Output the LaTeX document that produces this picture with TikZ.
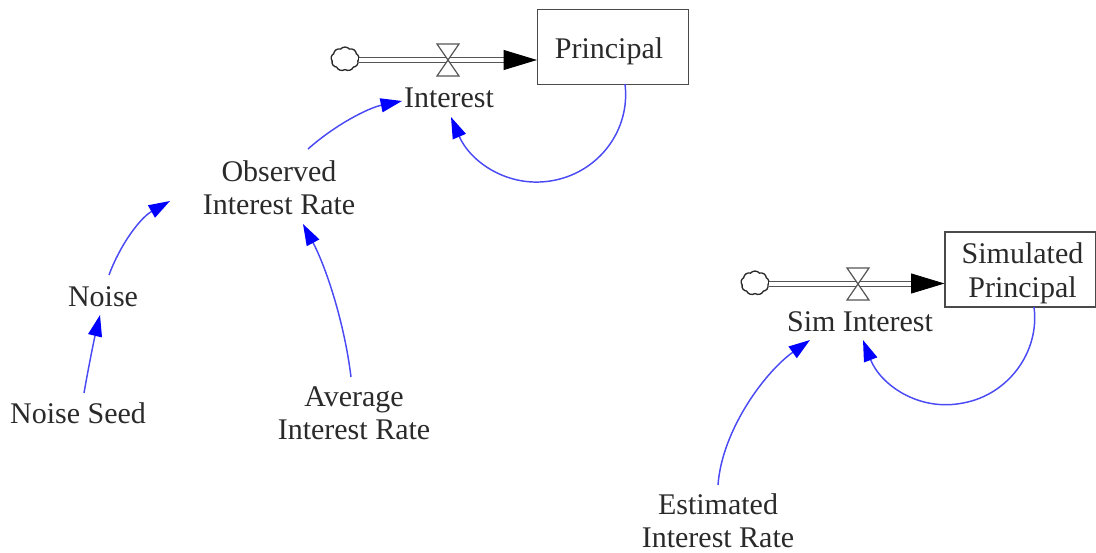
\documentclass[tikz,border=0pt]{standalone}
\usepackage{fontspec}
\setmainfont{Liberation Serif}
\usetikzlibrary{arrows.meta,calc,shapes.symbols}
\definecolor{inkc}{HTML}{2A2A2A}
\definecolor{linkblue}{HTML}{4A4AF5}
\tikzset{
  lbl/.style={font=\fontsize{22.5pt}{25pt}\selectfont,text=inkc,align=center,inner sep=0pt},
  stockbox/.style={lbl,draw=inkc!85,line width=1.1pt,minimum width=113pt,minimum height=56pt},
  link/.style={draw=linkblue,line width=1.1pt,-{Triangle[length=16pt,width=10.5pt,fill=blue,color=blue]}},
  sourcecloud/.style={cloud,cloud puffs=9,cloud puff arc=100,aspect=1.2,draw=inkc,line width=1pt,inner sep=0pt,minimum width=21pt,minimum height=18pt},
  pipe/.style={draw=inkc!80,line width=1pt,double=white,double distance=2.6pt},
  flowhead/.style={draw=black,line width=.6pt,-{Triangle[length=25pt,width=15pt,fill=black]}},
  valveline/.style={draw=inkc!80,line width=.9pt,line join=miter},
}
\begin{document}
\begin{tikzpicture}[x=0.75pt,y=-0.75pt]
\useasboundingbox (0,0) rectangle (1096,553);
% stocks
\node[stockbox] (principal) at (613,47) {\rule{0pt}{22.7pt}Principal\hspace*{6pt}};
\node[stockbox] (simprincipal) at (1020.5,269.5) {\rule{0pt}{21.2pt}\hspace*{3pt}Simulated\\\hspace*{3pt}Principal};
% sources
\node[sourcecloud] (cloudA) at (345,59) {};
\node[sourcecloud] (cloudB) at (755,283) {};
% variables
\node[lbl] (interest) at (449,98) {Interest};
\node[lbl] (simint) at (860,322) {Sim Interest};
\node[lbl] (observed) at (279,188) {Observed\\Interest Rate};
\node[lbl] (noise) at (103,297) {Noise};
\node[lbl] (seed) at (78,413) {Noise Seed};
\node[lbl] (average) at (354,413) {Average\\Interest Rate};
\node[lbl] (estimated) at (718,521) {Estimated\\Interest Rate};
% flows
\coordinate (valveA) at (448,60);
\coordinate (valveB) at (858,284);
\draw[pipe] (cloudA.east |- 0,60) -- (506,60);
\draw[flowhead] (504,60) -- ($(principal.west)+(0,13)$);
\draw[pipe] (cloudB.east |- 0,284) -- (917,284);
\draw[flowhead] (915,283.5) -- ($(simprincipal.west)+(0,14)$);
\draw[valveline,fill=white] (valveA) -- ++(-11,-16) -- ++(22,0) -- cycle;
\draw[valveline,fill=white] (valveA) -- ++(-11,16) -- ++(22,0) -- cycle;
\draw[valveline,fill=white] (valveB) -- ++(-11,-16) -- ++(22,0) -- cycle;
\draw[valveline,fill=white] (valveB) -- ++(-11,16) -- ++(22,0) -- cycle;
% influences
\draw[link] ($(observed)+(29,-39)$) .. controls (335,125) and (368,108) .. ($(interest)+(-47,3)$);
\draw[link] ($(noise)+(6,-22)$) .. controls (120,245) and (140,218) .. ($(observed)+(-109,13)$);
\draw[link] ($(seed)+(6,-20)$) .. controls (88,370) and (94,340) .. ($(noise)+(-3,18)$);
\draw[link] ($(average)+(-3,-36)$) .. controls (344,320) and (325,265) .. ($(observed)+(24,36)$);
\draw[link] ($(estimated)+(0,-36)$) .. controls (722,430) and (765,372) .. ($(simint)+(-50,18)$);
\draw[link] ($(principal)+(12,37)$) .. controls (630.6,130) and (599.2,171.6) .. (553.8,180.4)
  .. controls (508.4,189.2) and (470,161.6) .. ($(interest)+(2,19)$);
\draw[link] ($(simprincipal)+(13.5,37.5)$) .. controls (1040,352) and (1008,395) .. (963,403)
  .. controls (918,412) and (880,384) .. ($(simint)+(3,18)$);
\end{tikzpicture}
\end{document}
